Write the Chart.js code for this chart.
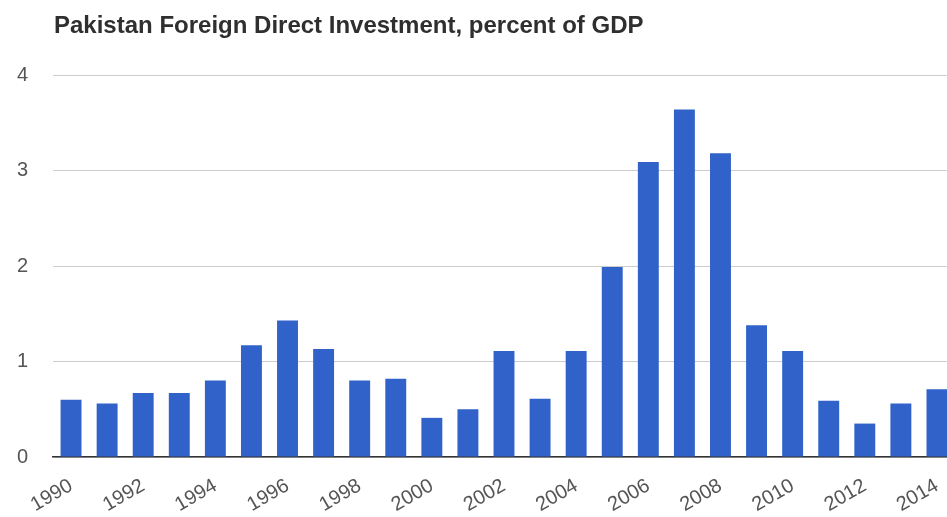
<!DOCTYPE html>
<html>
<head>
<meta charset="utf-8">
<script src="https://cdn.jsdelivr.net/npm/chart.js@4/dist/chart.umd.min.js"></script>
<style>
    html, body { margin: 0; padding: 0; background: #fff; overflow: hidden; }
    #wrap { position: relative; width: 958px; height: 517px; }
    #title {
        position: absolute; left: 54px; top: 13px;
        font: bold 24px "Liberation Sans", Arial, sans-serif;
        line-height: 24px; color: #2f2f2f; white-space: nowrap;
    }
</style>
</head>
<body>
<div id="wrap">
    <div id="title">Pakistan Foreign Direct Investment, percent of GDP</div>
    <canvas id="fdiChart" width="958" height="517"></canvas>
</div>
<script>
// Años y valores (% del PIB)
const years = ['1990', '1991', '1992', '1993', '1994', '1995', '1996', '1997', '1998', '1999',
    '2000', '2001', '2002', '2003', '2004', '2005', '2006', '2007', '2008', '2009',
    '2010', '2011', '2012', '2013', '2014'];
const fdiPercent = [0.60, 0.56, 0.67, 0.67, 0.80, 1.17, 1.43, 1.13, 0.80, 0.82,
    0.41, 0.50, 1.11, 0.61, 1.11, 1.99, 3.09, 3.64, 3.18, 1.38,
    1.11, 0.59, 0.35, 0.56, 0.71];
const yTicks = [0, 1, 2, 3, 4];

const labelFont = { family: '"Liberation Sans", Arial, sans-serif', size: 20 };

new Chart(document.getElementById('fdiChart'), {
    type: 'bar',
    data: {
        labels: years,
        datasets: [{
            label: 'FDI, % of GDP',
            data: fdiPercent,
            backgroundColor: '#3162c9',
            barPercentage: 0.58,
            categoryPercentage: 1.0
        }]
    },
    options: {
        responsive: false,
        animation: false,
        layout: { padding: { top: 75, right: 2, left: 0, bottom: 0 } },
        plugins: {
            legend: { display: false },
            tooltip: { enabled: false }
        },
        scales: {
            x: {
                grid: { display: false },
                border: { display: true, color: '#333', width: 1.5 },
                ticks: {
                    autoSkip: false,
                    maxRotation: 30,
                    minRotation: 30,
                    padding: 9,
                    color: '#555',
                    font: labelFont,
                    callback: function (value, index) {
                        return index % 2 === 0 ? years[index] : '';
                    }
                },
                afterFit: function (scale) { scale.height = 60; }
            },
            y: {
                min: 0,
                max: 4,
                afterBuildTicks: function (scale) {
                    scale.ticks = yTicks.map(v => ({ value: v }));
                },
                grid: { color: '#ccc', drawTicks: false },
                border: { display: false },
                ticks: {
                    padding: 25,
                    color: '#555',
                    font: labelFont
                },
                afterFit: function (scale) { scale.width = 53; }
            }
        }
    }
});
</script>
</body>
</html>
